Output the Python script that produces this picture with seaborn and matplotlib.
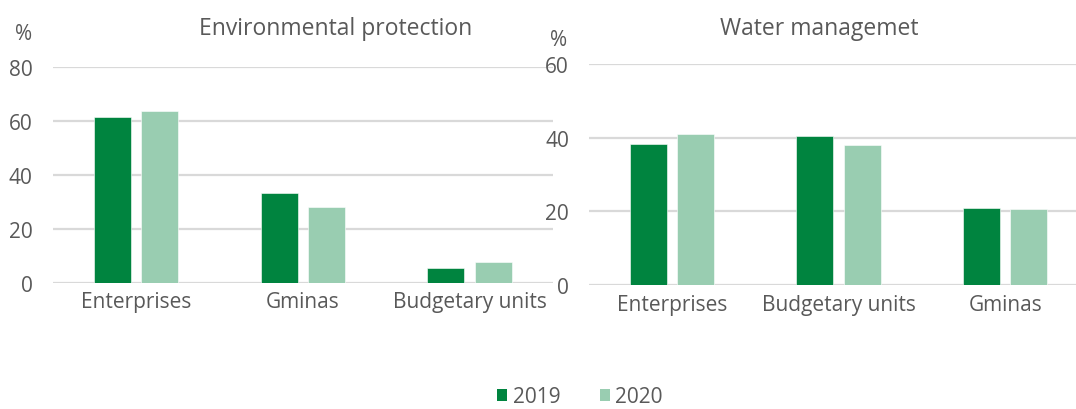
import matplotlib
matplotlib.use("Agg")
import matplotlib.pyplot as plt
import seaborn as sns
import pandas as pd
from matplotlib.patches import Patch

# ---- data ----
years = ["2019", "2020"]
env_categories = ["Enterprises", "Gminas", "Budgetary units"]
env_2019 = [61.6, 33.4, 5.4]
env_2020 = [63.8, 28.3, 7.9]
water_categories = ["Enterprises", "Budgetary units", "Gminas"]
water_2019 = [38.3, 40.5, 21.0]
water_2020 = [41.1, 38.1, 20.7]
env_ticks = [0, 20, 40, 60, 80]
water_ticks = [0, 20, 40, 60]
title_env = "Environmental protection"
title_water = "Water managemet"

DARK = "#00843F"
LIGHT = "#99CDB1"
TEXT = "#595959"
GRID = "#D9D9D9"

sns.set_theme(style="white")
plt.rcParams["font.family"] = ["Open Sans", "DejaVu Sans"]

def frame(cats, v19, v20):
    rows = []
    for c, a in zip(cats, v19):
        rows.append({"cat": c, "year": years[0], "val": a})
    for c, b in zip(cats, v20):
        rows.append({"cat": c, "year": years[1], "val": b})
    return pd.DataFrame(rows)

df_env = frame(env_categories, env_2019, env_2020)
df_wat = frame(water_categories, water_2019, water_2020)

fig = plt.figure(figsize=(10.76, 4.10), dpi=100)
ax1 = fig.add_axes([52.6 / 1076, 0.3073, 500.3 / 1076, 0.527])
ax2 = fig.add_axes([588.5 / 1076, 0.3017, 500.0 / 1076, 0.5405])

palette = {years[0]: DARK, years[1]: LIGHT}
for ax, df, cats, ticks, pad in [
    (ax1, df_env, env_categories, env_ticks, 14.4),
    (ax2, df_wat, water_categories, water_ticks, 14),
]:
    sns.barplot(data=df, x="cat", y="val", hue="year", order=cats,
                hue_order=years, palette=palette, width=0.568, gap=0.218,
                saturation=1, legend=False, ax=ax,
                edgecolor="white", linewidth=0.4)
    ax.set_ylim(0, ticks[-1])
    ax.set_xlim(-0.5, len(cats) - 0.5)
    ax.set_yticks(ticks)
    ax.set_xlabel("")
    ax.set_ylabel("")
    ax.grid(axis="y", color=GRID, linewidth=1.6)
    ax.set_axisbelow(True)
    for s in ax.spines.values():
        s.set_visible(False)
    ax.tick_params(axis="y", length=0, pad=pad, labelsize=15, labelcolor=TEXT)
    ax.tick_params(axis="x", length=0, pad=6, labelsize=15, labelcolor=TEXT)
    ax.patch.set_alpha(0)

fig.text(335.5 / 1076, 1 - 29 / 410, title_env, ha="center", va="center",
         fontsize=16.5, color=TEXT)
fig.text(819.5 / 1076, 1 - 29 / 410, title_water, ha="center", va="center",
         fontsize=16.5, color=TEXT)
fig.text(24 / 1076, 1 - 34 / 410, "%", ha="center", va="center",
         fontsize=15, color=TEXT)
fig.text(559 / 1076, 1 - 40 / 410, "%", ha="center", va="center",
         fontsize=15, color=TEXT)

handles = [Patch(facecolor=DARK, edgecolor="none"),
           Patch(facecolor=LIGHT, edgecolor="none")]
fig.legend(handles, years, loc="center", bbox_to_anchor=(580 / 1076, 1 - 398 / 410),
           ncol=2, frameon=False, fontsize=15, labelcolor=TEXT,
           handlelength=0.5, handleheight=0.5, handletextpad=0.25,
           columnspacing=1.9, borderpad=0.1)

fig.savefig("out.png", dpi=100)
